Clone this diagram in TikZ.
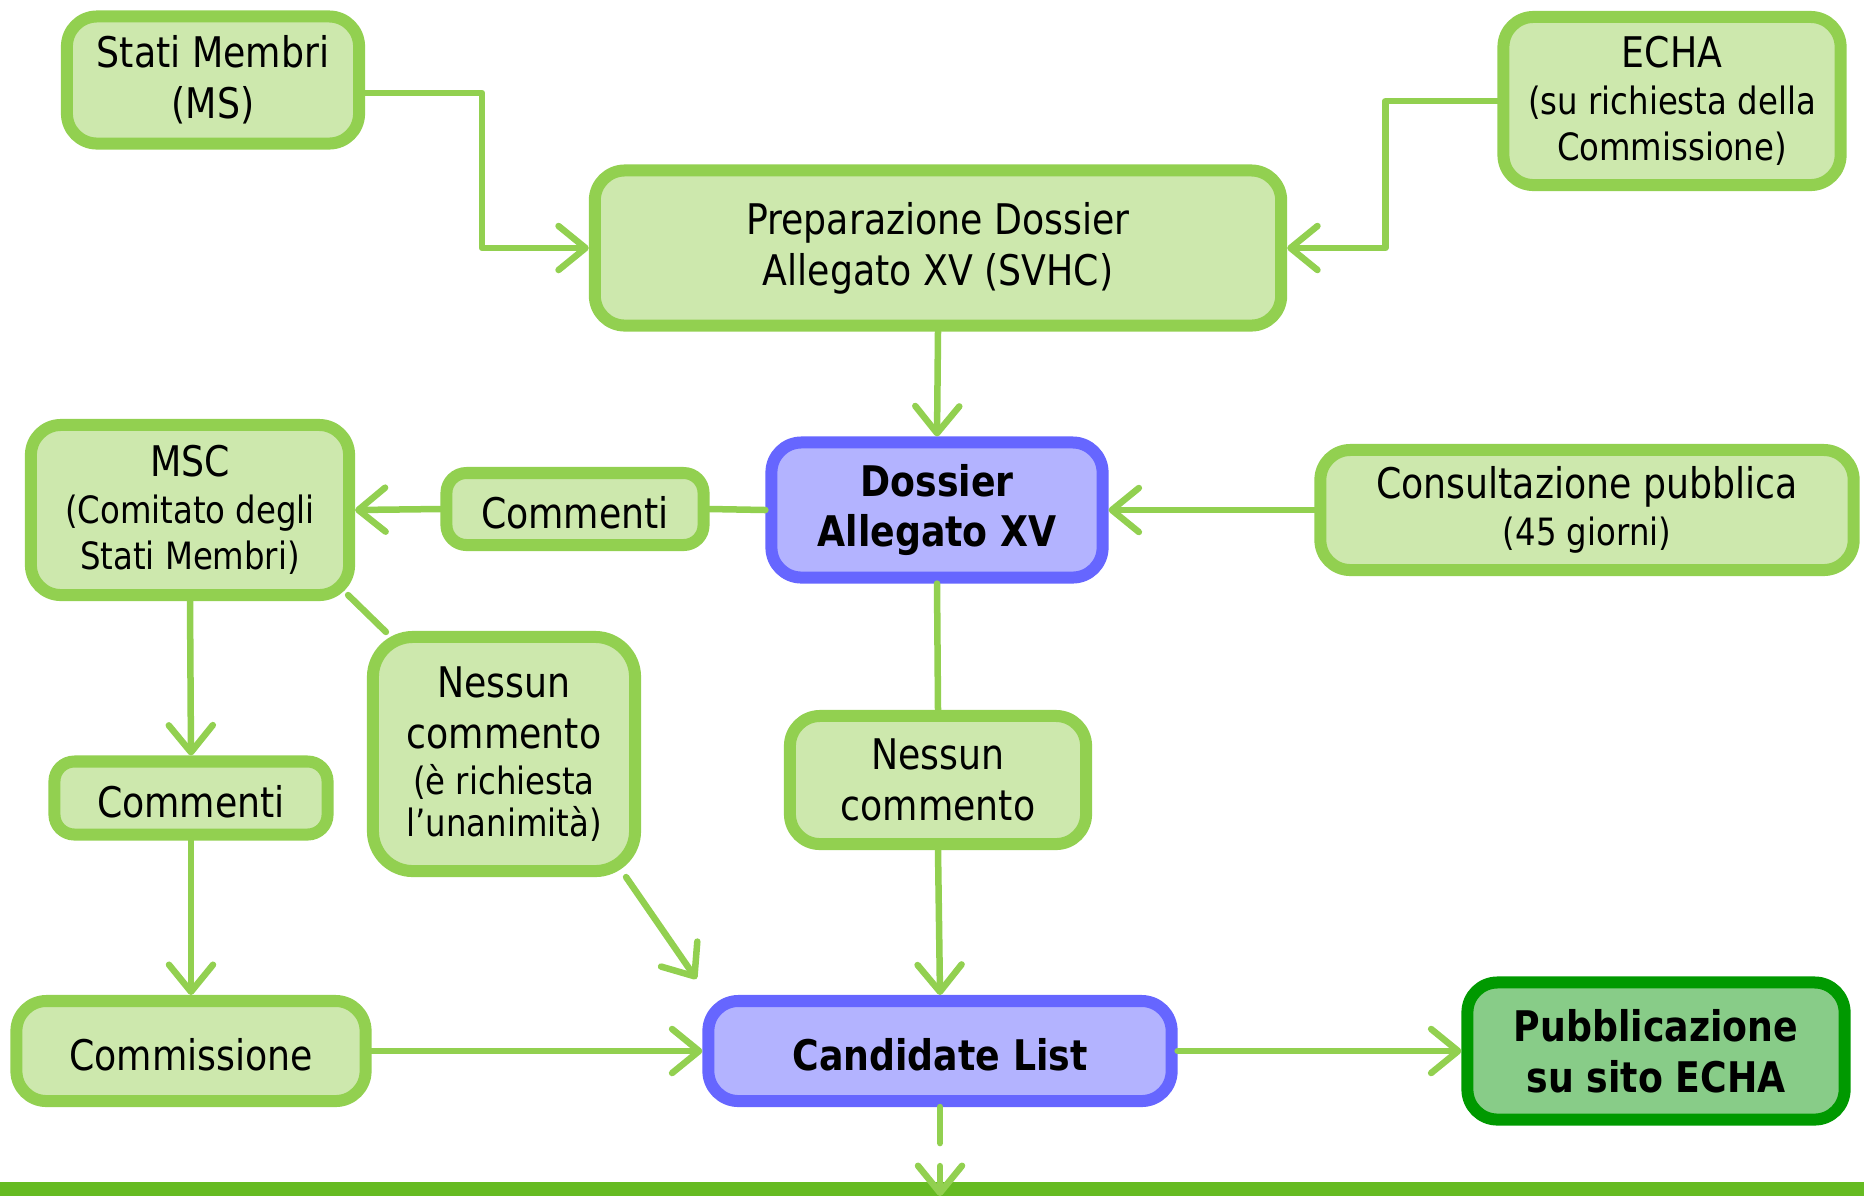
\documentclass[tikz,border=0pt]{standalone}
\usepackage{fontspec}
\setmainfont{DejaVu Sans}[FakeStretch=0.86]
\usetikzlibrary{arrows.meta}
\definecolor{lgreen}{HTML}{CDE8AD}
\definecolor{dgreen}{HTML}{92D050}
\definecolor{lblue}{HTML}{B3B3FF}
\definecolor{dblue}{HTML}{6666FF}
\definecolor{pgreen}{HTML}{88CC88}
\definecolor{pborder}{HTML}{009900}
\definecolor{barcol}{HTML}{66BB22}
\newcommand\sm{\fontsize{10.7}{12.8}\selectfont}
\begin{document}
\begin{tikzpicture}[x=0.01cm, y=-0.01cm, font=\fontsize{12}{14.5}\selectfont, line join=round, line cap=round,
    >={Straight Barb[round,length=0.27cm,width=0.44cm]},
    box/.style={draw=dgreen, fill=lgreen, line width=0.12cm, rounded corners=0.3cm, align=center, inner sep=0pt,
      execute at begin node={\rule{0pt}{11pt}}},
    bbox/.style={box, draw=dblue, fill=lblue, font=\fontsize{12}{14.5}\selectfont\bfseries},
    pbox/.style={box, draw=pborder, fill=pgreen, font=\fontsize{12}{14.5}\selectfont\bfseries},
    tight/.style={font=\fontsize{12}{13.3}\selectfont},
    conn/.style={draw=dgreen, line width=0.065cm}]
    \useasboundingbox (0,0) rectangle (1864,1196);
    % barra in fondo
    \fill[barcol] (0,1182) rectangle (1864,1196);
    \coordinate (bar) at (940,1196);
    % blocchi
    \node[box, minimum width=2.92cm, minimum height=1.27cm] (stati) at (213,80) {Stati Membri\\(MS)};
    \node[box, tight, minimum width=3.37cm, minimum height=1.68cm] (echa) at (1672,101) {ECHA\\\sm(su richiesta della\\\sm Commissione)};
    \node[box, minimum width=6.86cm, minimum height=1.55cm] (prep) at (938,248) {Preparazione Dossier\\Allegato XV (SVHC)};
    \node[bbox, minimum width=3.31cm, minimum height=1.35cm] (dossier) at (937,510) {Dossier\\Allegato XV};
    \node[box, minimum width=2.57cm, minimum height=0.72cm, rounded corners=0.2cm] (comm1) at (575,509) {Commenti};
    \node[box, tight, minimum width=3.18cm, minimum height=1.70cm] (msc) at (190,510) {MSC\\\sm(Comitato degli\\\sm Stati Membri)};
    \node[box, tight, minimum width=5.33cm, minimum height=1.20cm] (consult) at (1587,510) {Consultazione pubblica\\\sm(45 giorni)};
    \node[box, minimum width=2.62cm, minimum height=2.34cm, rounded corners=0.4cm] (ness1) at (504,754) {Nessun\\commento\\[-1.5pt]\sm(è richiesta\\[-2.5pt]\sm l’unanimità)};
    \node[box, minimum width=2.96cm, minimum height=1.28cm] (ness2) at (938,780) {Nessun\\commento};
    \node[box, minimum width=2.73cm, minimum height=0.73cm, rounded corners=0.2cm] (comm2) at (191,798) {Commenti};
    \node[box, minimum width=3.49cm, minimum height=1.00cm] (commiss) at (191,1051) {Commissione};
    \node[bbox, minimum width=4.63cm, minimum height=1.00cm] (cand) at (940,1051) {Candidate List};
    \node[pbox, minimum width=3.77cm, minimum height=1.37cm] (pubbl) at (1656,1051) {Pubblicazione\\su sito ECHA};
    % collegamenti
    \draw[conn,->] ([yshift=-0.13cm]stati.east) -- ++(117,0) |- (prep.west);
    \draw[conn,->] (echa.west) -- ++(-112,0) |- (prep.east);
    \draw[conn,->] (prep.south) -- (dossier.north);
    \draw[conn] (dossier.west) -- (comm1.east);
    \draw[conn,->] (comm1.west) -- (msc.east);
    \draw[conn,->] (consult.west) -- (dossier.east);
    \draw[conn] (dossier.south) -- (ness2.north);
    \draw[conn,->] (ness2.south) -- (cand.north);
    \draw[conn,->] (msc.south) -- (comm2.north);
    \draw[conn,->] (comm2.south) -- (commiss.north);
    \draw[conn] ([xshift=-0.07cm,yshift=0.06cm]msc.south east) -- ([xshift=0.19cm,yshift=-0.01cm]ness1.north west);
    \draw[conn,->] ([xshift=-0.15cm]ness1.south east) -- ([xshift=-0.06cm,yshift=0.16cm]cand.north west);
    \draw[conn,->] (commiss.east) -- (cand.west);
    \draw[conn,->] (cand.east) -- (pubbl.west);
    \draw[conn,->, dash pattern=on 0.36cm off 0.23cm on 2cm] (cand.south) -- (bar);
\end{tikzpicture}
\end{document}
